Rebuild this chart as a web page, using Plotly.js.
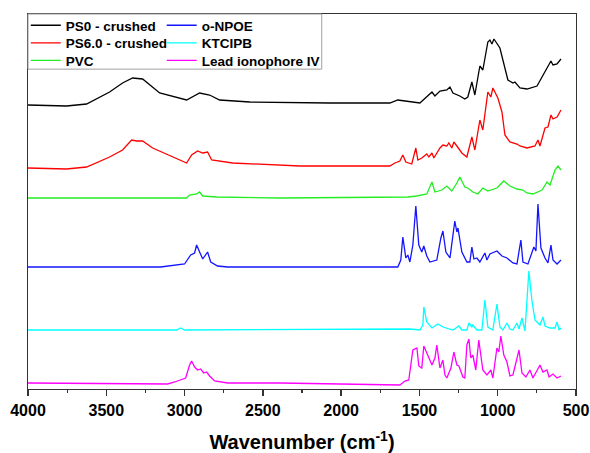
<!DOCTYPE html>
<html>
<head>
<meta charset="utf-8">
<script src="https://cdn.plot.ly/plotly-3.0.1.min.js"></script>
<style>html,body{margin:0;padding:0;background:#fff;}#chart{width:590px;height:453px;}</style>
</head>
<body>
<div id="chart"></div>
<script>
// Series names
const names = ["PS0 - crushed", "PS6.0 - crushed", "PVC", "o-NPOE", "KTCIPB", "Lead ionophore IV"];

// x tick labels
const xTickVals = [4000, 3500, 3000, 2500, 2000, 1500, 1000, 500];
const xTickText = ["4000", "3500", "3000", "2500", "2000", "1500", "1000", "500"];

// PS0 - crushed (offset absorbance, a.u.)
const ps0_wn = [4000,3754,3626,3479,3396,3332,3268,3159,2987,2904,2840,2776,2584,2264,2073,1689,1638,1497,1453,1420,1401,1369,1325,1305,1286,1242,1210,1191,1165,1146,1114,1095,1063,1050,1037,1024,986,967,935,903,890,858,813,749,711,685,660,647,621,596];
const ps0_y  = [284,283,285,297,306,311,310,296,289,296,294,289,287,286,286,286,289,286,292,297,293,298,299,302,296,293,290,292,307,294,323,319,347,349,345,350,341,329,309,306,307,301,300,303,314,321,328,324,325,330];

// PS6.0 - crushed
const ps6_wn = [4000,3754,3626,3479,3396,3338,3306,3268,3204,3076,2987,2955,2917,2884,2853,2827,2693,2264,1689,1657,1625,1606,1587,1549,1523,1510,1485,1453,1440,1420,1408,1369,1350,1325,1312,1293,1280,1261,1229,1197,1165,1146,1114,1095,1063,1044,1031,999,973,954,922,877,858,813,762,743,730,698,679,660,647,621,596];
const ps6_y  = [221,220,222,232,239,249,248,248,241,232,226,234,238,236,237,229,226,223,223,226,228,234,227,225,241,229,231,235,232,236,231,241,244,243,246,241,247,243,236,232,252,239,269,259,297,292,301,291,277,254,247,245,243,241,243,249,243,261,262,274,270,272,279];

// PVC
const pvc_wn = [4000,3754,2987,2968,2923,2904,2884,2795,2392,1574,1516,1453,1420,1401,1357,1325,1293,1261,1242,1210,1191,1159,1127,1095,1063,1005,961,922,877,839,813,775,717,685,666,634,615,596];
const pvc_y  = [191,191,191,194,195,197,193,192,191,192,193,195,207,197,199,203,198,206,212,202,201,197,195,201,198,201,208,203,200,199,196,195,199,207,204,219,223,219];

// o-NPOE
const npoe_wn = [4000,3153,3000,2961,2936,2923,2904,2884,2853,2833,2789,2725,1638,1619,1606,1587,1574,1561,1542,1523,1504,1485,1472,1453,1433,1389,1363,1350,1331,1305,1274,1261,1254,1229,1197,1178,1165,1152,1133,1114,1082,1069,1050,1005,973,941,903,877,852,839,807,769,756,743,724,698,679,660,647,621,596];
const npoe_y  = [122,122,125,134,136,144,137,130,137,127,123,122,122,129,152,131,134,127,144,183,144,137,143,133,127,129,151,158,137,131,168,157,161,137,127,127,142,130,131,127,136,129,135,138,133,131,126,125,149,127,125,142,138,185,141,131,126,144,129,125,129];

// KTCIPB
const ktc_wn = [4000,3050,3025,3000,1561,1497,1478,1472,1453,1420,1382,1350,1286,1248,1229,1197,1184,1165,1159,1133,1101,1082,1063,1031,1005,986,967,941,922,903,877,864,845,826,813,801,782,762,730,711,698,666,634,621,608,596];
const ktc_y  = [59,59,61,59,60,59,64,82,67,61,65,62,59,63,59,59,66,62,64,59,59,89,62,59,85,62,59,66,60,59,66,60,71,58,89,118,89,69,64,72,63,61,61,67,59,61];

// Lead ionophore IV
const lead_wn = [4000,3108,3063,2993,2968,2955,2936,2917,2897,2878,2859,2840,2808,2725,2392,1689,1625,1593,1568,1542,1516,1504,1485,1472,1446,1420,1401,1389,1369,1350,1337,1325,1299,1280,1261,1248,1222,1210,1197,1184,1172,1159,1140,1121,1095,1069,1044,1031,1005,993,980,961,941,922,903,864,845,820,794,775,730,711,685,672,647,621,596];
const lead_y  = [6,5,7,11,24,28,22,19,20,16,17,13,8,6,6,4,4,8,9,39,41,23,21,43,34,24,31,44,21,29,14,11,21,37,24,23,12,11,44,50,31,34,19,49,19,14,19,11,41,37,53,34,27,13,14,39,16,12,19,11,24,17,19,12,15,11,13];

const FONT = 'Arial, "Liberation Sans", sans-serif';
const colors = ['#000000', '#ff0000', '#22ee22', '#1414ff', '#00ffff', '#ff00ff'];
const xs = [ps0_wn, ps6_wn, pvc_wn, npoe_wn, ktc_wn, lead_wn];
const ys = [ps0_y, ps6_y, pvc_y, npoe_y, ktc_y, lead_y];
const legendIds = ['legend', 'legend2', 'legend3', 'legend4', 'legend5', 'legend6'];

const data = names.map((n, i) => ({
  type: 'scatter', mode: 'lines', x: xs[i], y: ys[i], name: n,
  line: {color: colors[i], width: 1.3}, legend: legendIds[i], hoverinfo: 'skip'
}));

// legend placement (two columns, three rows)
const legX = [-0.004, -0.004, -0.004, 0.244, 0.244, 0.244];
const legY = [1.0107, 0.964, 0.9173, 1.0107, 0.964, 0.9173];

const layout = {
  width: 590, height: 453,
  margin: {l: 28, r: 14, t: 14, b: 64, autoexpand: false},
  paper_bgcolor: '#fff', plot_bgcolor: '#fff',
  showlegend: true,
  xaxis: {
    range: [4000, 500], autorange: false,
    tickmode: 'array', tickvals: xTickVals, ticktext: xTickText,
    ticks: 'outside', ticklen: 6, tickwidth: 1.3, tickcolor: '#333',
    minor: {dtick: 250, tick0: 0, ticks: 'outside', ticklen: 3, tickwidth: 1.2, tickcolor: '#333', showgrid: false},
    tickfont: {family: FONT, size: 16, color: '#000', weight: 'bold'},
    showline: true, mirror: true, linecolor: '#333', linewidth: 1.4,
    showgrid: false, zeroline: false,
    title: {text: 'Wavenumber (cm<sup>-1</sup>)', font: {family: FONT, size: 20, color: '#000', weight: 'bold'}}
  },
  yaxis: {
    range: [0, 375], autorange: false,
    showticklabels: false, ticks: '',
    showline: true, mirror: true, linecolor: '#333', linewidth: 1.4,
    showgrid: false, zeroline: false
  },
  shapes: [{
    type: 'rect', xref: 'paper', yref: 'paper', layer: 'above',
    x0: 0, x1: 0.536, y0: 0.853, y1: 1,
    line: {color: '#a0a0a0', width: 1}, fillcolor: 'rgba(255,255,255,1)'
  }]
};

legendIds.forEach((id, i) => {
  layout[id] = {
    x: legX[i], y: legY[i], xanchor: 'left', yanchor: 'top', orientation: 'v',
    bgcolor: 'rgba(0,0,0,0)', borderwidth: 0,
    itemclick: false, itemdoubleclick: false,
    font: {family: FONT, size: 13.5, color: '#000', weight: 'bold'}
  };
});

Plotly.newPlot('chart', data, layout, {staticPlot: true, displayModeBar: false});
</script>
</body>
</html>
